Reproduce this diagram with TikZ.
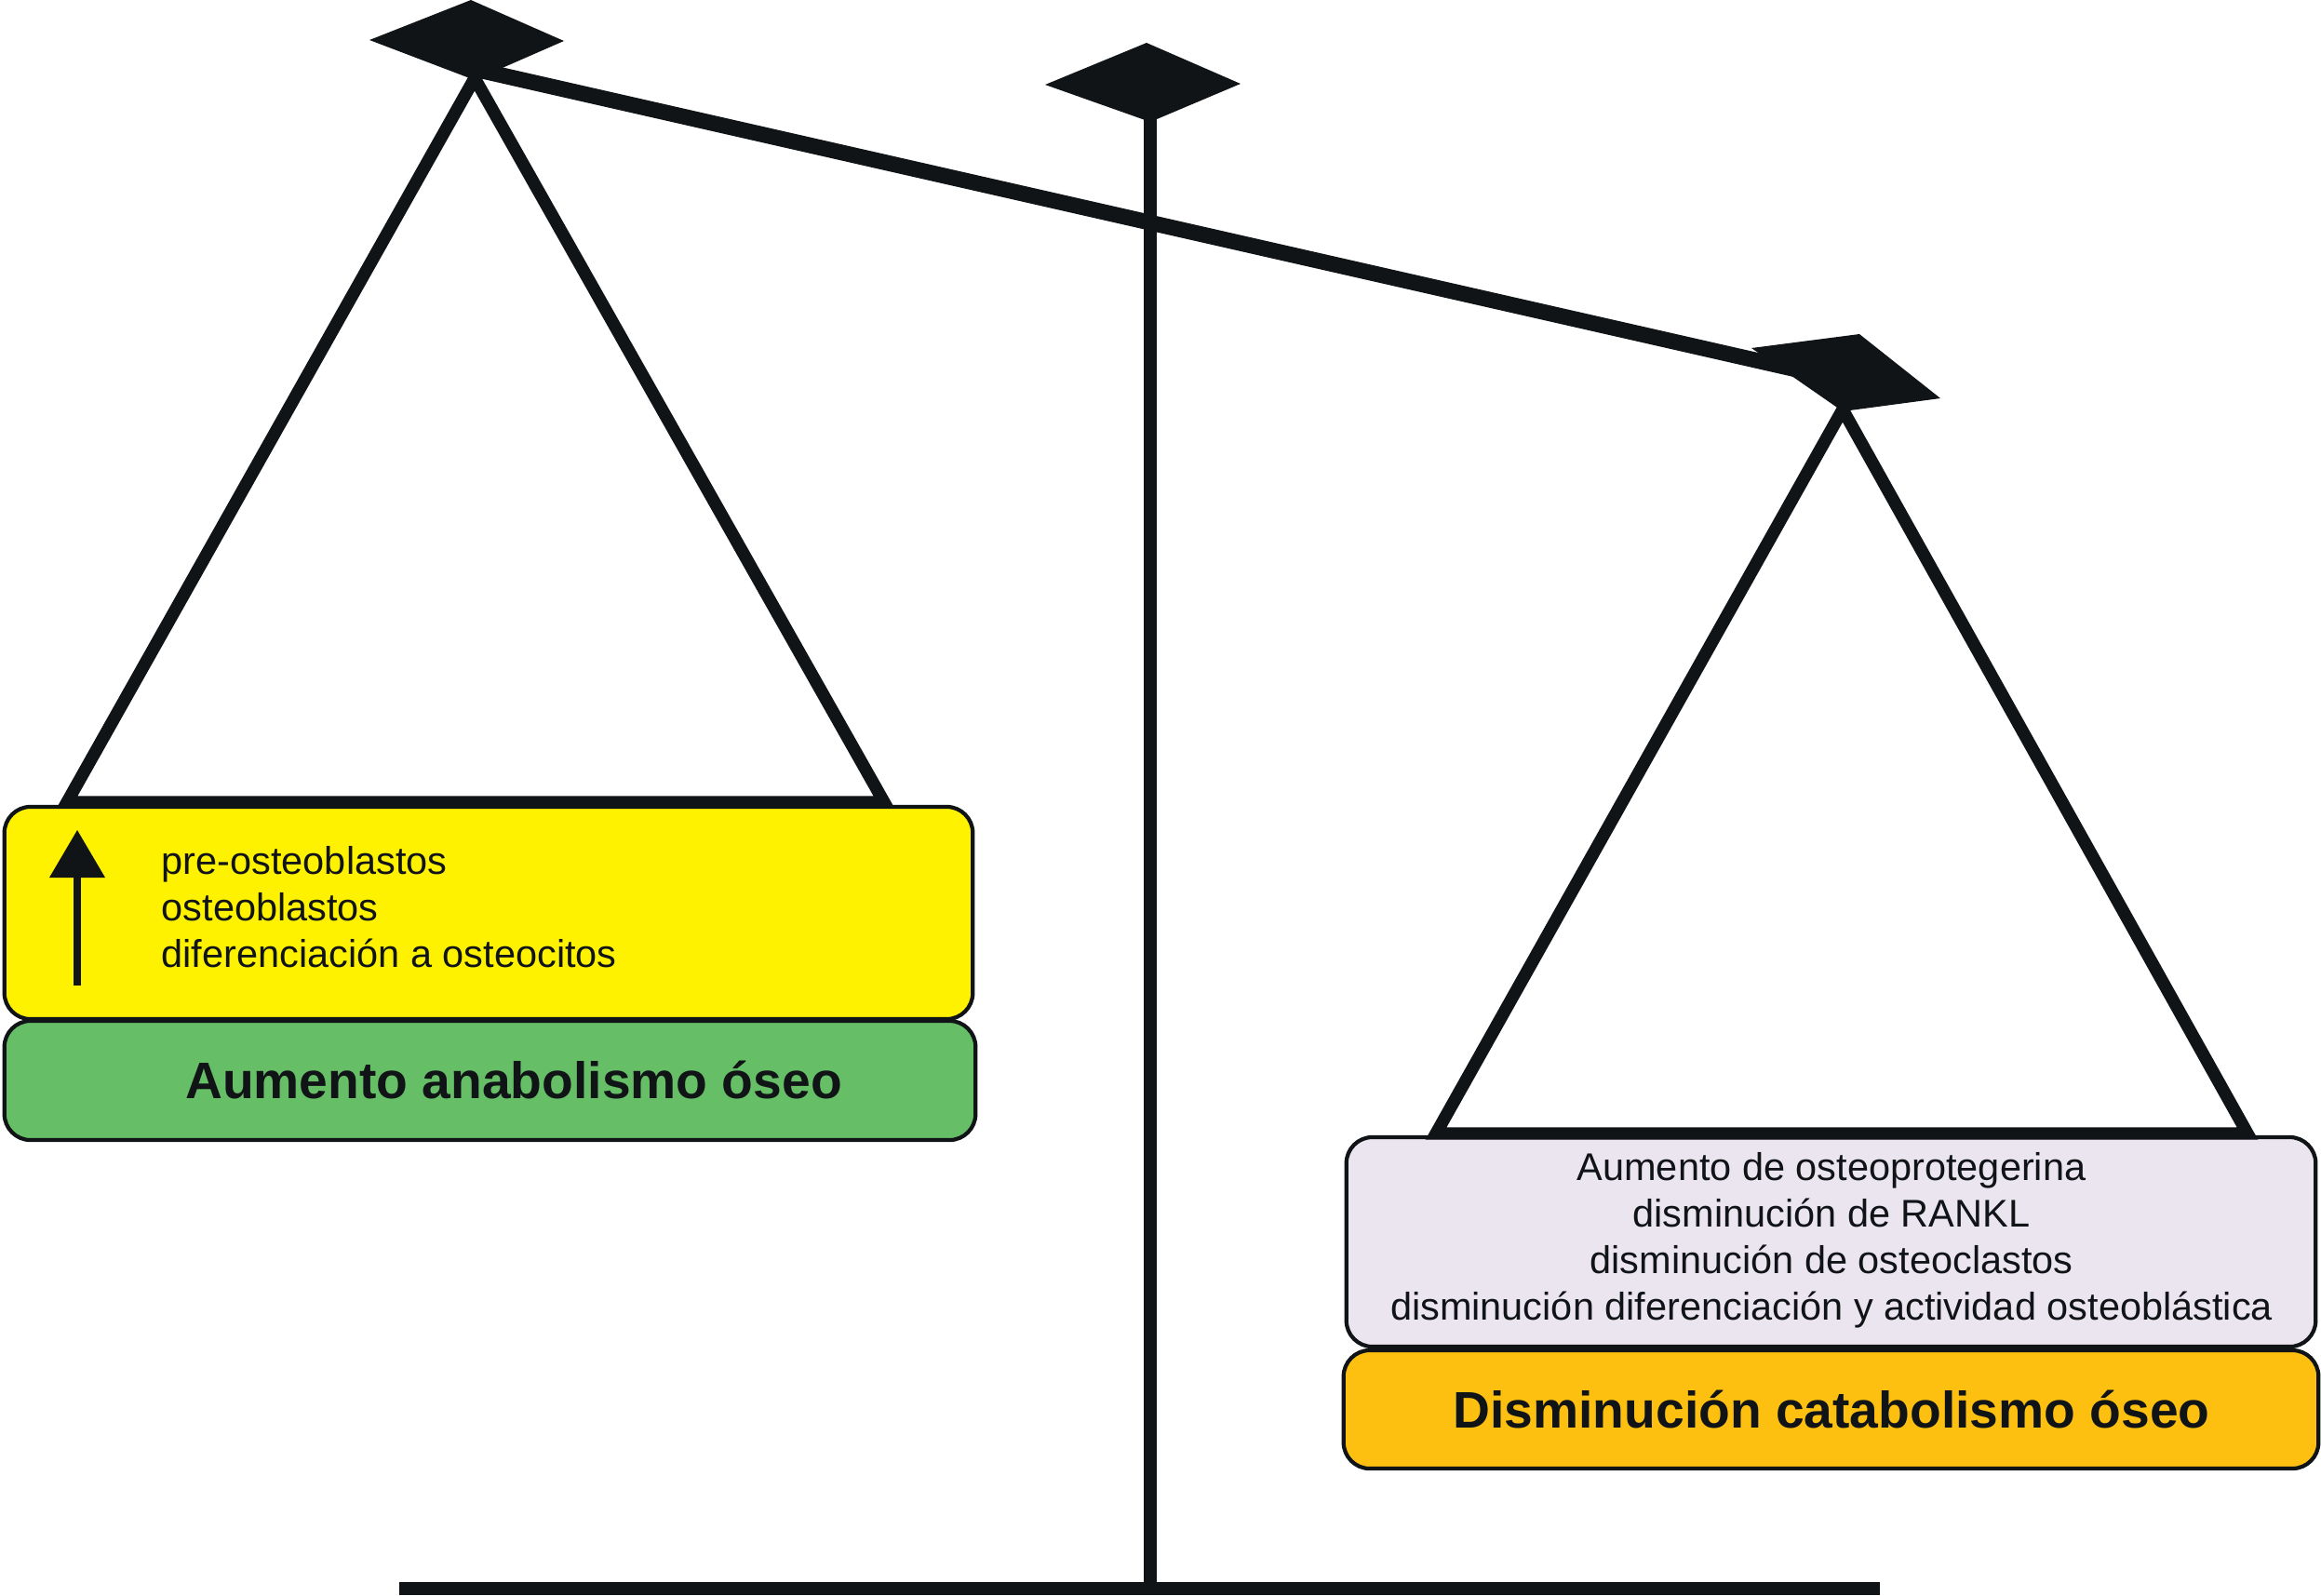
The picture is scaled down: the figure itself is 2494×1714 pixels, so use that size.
\documentclass[tikz,border=0pt]{standalone}
\usepackage{fontspec}
\setmainfont{Liberation Sans}
\definecolor{ink}{HTML}{111417}
\definecolor{yel}{HTML}{FFF200}
\definecolor{grn}{HTML}{66BE66}
\definecolor{lav}{HTML}{EBE5F0}
\definecolor{org}{HTML}{FDC010}
\tikzset{
  box/.style={draw=ink, line width=1.2pt, rounded corners=8pt, inner sep=0pt},
  bar/.style={draw=ink, line width=3.8pt, line join=miter},
  small/.style={font=\fontsize{11.8pt}{14.2pt}\selectfont, text=ink, inner sep=0pt},
  big/.style={font=\fontsize{15.7pt}{18pt}\selectfont\bfseries, text=ink, inner sep=0pt}
}
\begin{document}
\begin{tikzpicture}[x=0.01cm, y=-0.01cm]
\useasboundingbox (0,0) rectangle (2494,1714);
% coordinates
\coordinate (beamL) at (509,74);
\coordinate (beamR) at (1983,409);
\coordinate (poleT) at (1236,125);
\coordinate (poleB) at (1236,1702);
\coordinate (baseL) at (429,1707);
\coordinate (baseR) at (2020,1707);
\coordinate (apL) at (510,84);
\coordinate (blL) at (72,862);
\coordinate (brL) at (950,862);
\coordinate (apR) at (1980,440);
\coordinate (blR) at (1543,1218);
\coordinate (brR) at (2415,1218);
% beam, pole, base
\draw[ink, line width=4.8pt] (beamL) -- (beamR);
\draw[ink, line width=4.1pt] (poleT) -- (poleB);
\draw[ink, line width=4.1pt] (baseL) -- (baseR);
% diamonds
\fill[ink] (397,43) -- (506,0) -- (606,44) -- (510,86) -- cycle;
\fill[ink] (1123,91) -- (1232,46) -- (1333,90) -- (1236,131) -- cycle;
\fill[ink] (1882,374) -- (1998,359) -- (2085,428) -- (1980,442) -- cycle;
% boxes
\node[box, fill=yel, minimum width=10.40cm, minimum height=2.28cm] (yb) at (525,981) {};
\node[box, fill=grn, minimum width=10.43cm, minimum height=1.28cm] (gb) at (526.5,1161) {};
\node[box, fill=lav, minimum width=10.41cm, minimum height=2.25cm] (lb) at (1967.5,1334.5) {};
\node[box, fill=org, minimum width=10.47cm, minimum height=1.27cm] (ob) at (1967.5,1514.5) {};
% triangles
\draw[bar] (apL) -- (blL) -- (brL) -- cycle;
\draw[bar] (apR) -- (blR) -- (brR) -- cycle;
% arrow
\coordinate (arB) at (83,1059);
\coordinate (arT) at (83,938);
\draw[ink, line width=2pt] (arB) -- (arT);
\fill[ink] (53,943) -- (113,943) -- (83,892) -- cycle;
% texts
\node[small, anchor=west, align=left] (ytext) at (173,975) {pre-osteoblastos\\osteoblastos\\diferenciación a osteocitos};
\node[big] (gtext) at (552,1160) {Aumento anabolismo óseo};
\node[small, align=center] (ltext) at (1968,1333) {Aumento de osteoprotegerina\\disminución de RANKL\\disminución de osteoclastos\\disminución diferenciación y actividad osteoblástica};
\node[big] (otext) at (1968,1514) {Disminución catabolismo óseo};
\end{tikzpicture}
\end{document}
